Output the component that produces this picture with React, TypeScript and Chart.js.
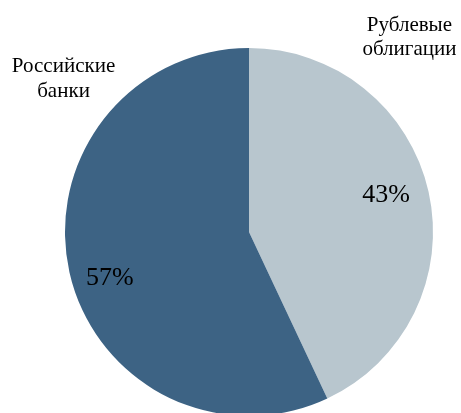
import React, { useEffect, useRef } from "react";
import { Chart, registerables } from "chart.js";

Chart.register(...registerables);

const categories = ["Рублевые облигации", "Российские банки"];
const categoryLines = [["Рублевые", "облигации"], ["Российские", "банки"]];
const values = [43, 57];
const percentLabels = ["43%", "57%"];
const colors = ["#b8c6ce", "#3d6384"];

// label placement relative to pie center, in units of radius (layout, not data)
const pctOffsets = [
  { dx: 0.745, dy: -0.165 },
  { dx: -0.757, dy: 0.288 },
];
const nameOffsets = [
  { dx: 0.872, dy: -1.095, lh: 24.5 },
  { dx: -1.008, dy: -0.869, lh: 25 },
];

const labelPlugin = {
  id: "pieLabels",
  afterDatasetsDraw(chart: any) {
    const meta = chart.getDatasetMeta(0);
    const ctx = chart.ctx;
    ctx.save();
    ctx.fillStyle = "#000";
    ctx.textAlign = "center";
    ctx.textBaseline = "alphabetic";
    meta.data.forEach((arc: any, i: number) => {
      const { x, y, outerRadius: r } = arc.getProps(["x", "y", "outerRadius"], true);
      ctx.font = "26px 'Liberation Serif', 'Times New Roman', serif";
      ctx.fillText(percentLabels[i], x + pctOffsets[i].dx * r, y + pctOffsets[i].dy * r);
      ctx.font = "21px 'Liberation Serif', 'Times New Roman', serif";
      const o = nameOffsets[i];
      categoryLines[i].forEach((line, j) => {
        ctx.fillText(line, x + o.dx * r, y + o.dy * r + j * o.lh);
      });
    });
    ctx.restore();
  },
};

export default function App() {
  const ref = useRef<HTMLCanvasElement>(null);
  useEffect(() => {
    if (!ref.current) return;
    const chart = new Chart(ref.current, {
      type: "pie",
      data: {
        labels: categories,
        datasets: [
          {
            data: values,
            backgroundColor: colors,
            borderWidth: 0,
          },
        ],
      },
      options: {
        animation: false,
        responsive: false,
        maintainAspectRatio: false,
        layout: { padding: { left: 65, right: 28, top: 48, bottom: 14 } },
        plugins: {
          legend: { display: false },
          tooltip: { enabled: false },
        },
      },
      plugins: [labelPlugin],
    });
    return () => chart.destroy();
  }, []);
  return (
    <div style={{ position: "absolute", left: 0, top: 0, width: 461, height: 430, background: "#fff" }}>
      <canvas ref={ref} width={461} height={430} style={{ width: 461, height: 430, display: "block" }} />
    </div>
  );
}
